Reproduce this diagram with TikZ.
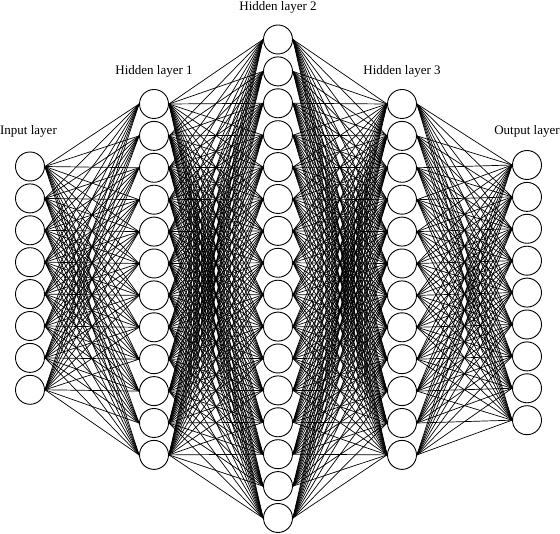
\documentclass[tikz,border=0pt]{standalone}
\usepackage{fontspec}
\setmainfont{Liberation Serif}
\begin{document}
\begin{tikzpicture}[x=1pt,y=-1pt,
  neuron/.style={circle,draw,fill=white,line width=0.9pt,minimum size=29pt,inner sep=0pt},
  conn/.style={line width=0.7pt},
  lbl/.style={font=\fontsize{13}{15}\selectfont,inner sep=0pt}]
\useasboundingbox (0,0) rectangle (560,534);
\def\s{31.9}
\foreach \i in {1,...,8}  \node[neuron] (I-\i) at (30,{166.5+(\i-1)*\s}) {};
\foreach \i in {1,...,12} \node[neuron] (A-\i) at (154,{104+(\i-1)*\s}) {};
\foreach \i in {1,...,16} \node[neuron] (B-\i) at (278,{39.5+(\i-1)*\s}) {};
\foreach \i in {1,...,12} \node[neuron] (C-\i) at (402,{104+(\i-1)*\s}) {};
\foreach \i in {1,...,9}  \node[neuron] (O-\i) at (527,{165+(\i-1)*\s}) {};
\foreach \a in {1,...,8} \foreach \b in {1,...,12} \draw[conn] (I-\a.east) -- (A-\b.west);
\foreach \a in {1,...,12} \foreach \b in {1,...,16} \draw[conn] (A-\a.east) -- (B-\b.west);
\foreach \a in {1,...,16} \foreach \b in {1,...,12} \draw[conn] (B-\a.east) -- (C-\b.west);
\foreach \a in {1,...,12} \foreach \b in {1,...,9} \draw[conn] (C-\a.east) -- (O-\b.west);
\node[lbl] (lI) at (28.5,131) {Input layer};
\node[lbl] (lA) at (154,71) {Hidden layer 1};
\node[lbl] (lB) at (278,7) {Hidden layer 2};
\node[lbl] (lC) at (402,71) {Hidden layer 3};
\node[lbl] (lO) at (527,131) {Output layer};
\end{tikzpicture}
\end{document}
